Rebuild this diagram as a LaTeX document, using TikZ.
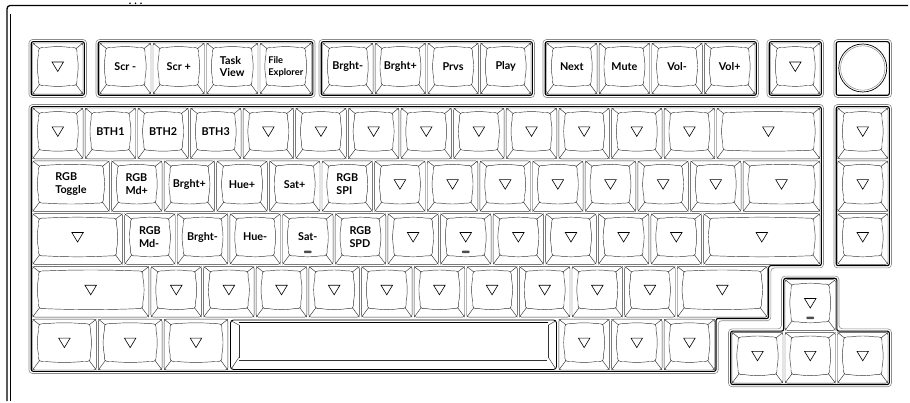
\documentclass[tikz,border=0pt]{standalone}
\usepackage{fontspec}
\newfontfamily\kf{Lato}
\usetikzlibrary{calc}
\tikzset{
  kout/.style={draw=black!80, line width=0.45pt, rounded corners=2.5pt},
  kin/.style={draw=black!80, line width=0.45pt},
  kdiag/.style={draw=black!80, line width=0.45pt},
  frg/.style={draw=black!45, line width=0.6pt, rounded corners=3.5pt},
  frb/.style={draw=black, line width=1.1pt, rounded corners=2pt},
  tri/.style={draw=black, line width=0.6pt, line join=miter},
  lbl/.style={font=\kf\bfseries\fontsize{10.8}{12.8}\selectfont, align=left, inner sep=0pt},
  lbls/.style={font=\kf\bfseries\fontsize{9.3}{12.3}\selectfont, align=left, inner sep=0pt},
  hbar/.style={fill=black!70, rounded corners=0.8pt},
}
\def\X{31.5}\def\U{52.633}
\def\Ra{107}\def\Rb{159.8}\def\Rc{212.6}\def\Rd{265.4}\def\Re{318.2}\def\Rf{371}
\def\Fa{42}\def\Fb{95}
\newcommand{\kbase}[4]{%
  \pgfmathsetmacro{\oxa}{#1+1}\pgfmathsetmacro{\oya}{#2+1}%
  \pgfmathsetmacro{\oxb}{#3-1}\pgfmathsetmacro{\oyb}{#4-1}%
  \pgfmathsetmacro{\ixa}{#1+7}\pgfmathsetmacro{\iya}{#2+5.5}%
  \pgfmathsetmacro{\ixb}{#3-7}\pgfmathsetmacro{\iyb}{#4-9.5}%
  \pgfmathsetmacro{\kcx}{(#1+#3)/2}\pgfmathsetmacro{\kcy}{(\iya+\iyb)/2}%
  \pgfmathsetmacro{\kw}{(\ixb-\ixa-14)/3}\pgfmathsetmacro{\kh}{(\iyb-\iya-14)/3}%
  \draw[kout] (\oxa,\oya) rectangle (\oxb,\oyb);
  \draw[kdiag] (\oxa,\oya) -- ({\ixa+1.3},{\iya+1.3});
  \draw[kdiag] (\oxb,\oya) -- ({\ixb-1.3},{\iya+1.3});
  \draw[kdiag] (\oxb,\oyb) -- ({\ixb-1.3},{\iyb-1.3});
  \draw[kdiag] (\oxa,\oyb) -- ({\ixa+1.3},{\iyb-1.3});
  \draw[kin] (\ixa,{\iya+7}) .. controls (\ixa,\iya) .. ({\ixa+7},\iya)
    .. controls ({\ixa+7+\kw},{\iya-1.2}) and ({\ixb-7-\kw},{\iya-1.2}) .. ({\ixb-7},\iya)
    .. controls (\ixb,\iya) .. (\ixb,{\iya+7})
    .. controls ({\ixb+1.5},{\iya+7+\kh}) and ({\ixb+1.5},{\iyb-7-\kh}) .. (\ixb,{\iyb-7})
    .. controls (\ixb,\iyb) .. ({\ixb-7},\iyb)
    .. controls ({\ixb-7-\kw},{\iyb+1.2}) and ({\ixa+7+\kw},{\iyb+1.2}) .. ({\ixa+7},\iyb)
    .. controls (\ixa,\iyb) .. (\ixa,{\iyb-7})
    .. controls ({\ixa-1.5},{\iyb-7-\kh}) and ({\ixa-1.5},{\iya+7+\kh}) .. cycle;
}
\newcommand{\kt}[5]{\kbase{#2}{#3}{#4}{#5}%
  \coordinate (#1) at (\kcx,\kcy);
  \draw[tri] ({\kcx-5.75},{\kcy-4.5}) -- ({\kcx+5.75},{\kcy-4.5}) -- (\kcx,{\kcy+5}) -- cycle;}
\newcommand{\kl}[6]{\kbase{#2}{#3}{#4}{#5}%
  \node[lbl] (#1) at (\kcx,\kcy) {#6};}
\newcommand{\kls}[6]{\kbase{#2}{#3}{#4}{#5}%
  \node[lbls] (#1) at (\kcx,\kcy) {#6};}
\newcommand{\kbar}{\fill[hbar] ({\kcx-3.8},{\iyb-5.3}) rectangle ({\kcx+3.8},{\iyb-2.8});}
\newcommand{\frm}[4]{%
  \draw[frg] ({#1-2.5},{#2-2.5}) rectangle ({#3+2.5},{#4+2.5});
  \draw[frb] ({#1-0.3},{#2-0.3}) rectangle ({#3+0.3},{#4+0.3});}
\begin{document}
\begin{tikzpicture}[x=1pt,y=-1pt]
\useasboundingbox (0,0) rectangle (910,403);
% outer case
\draw[line width=1.3pt] (7,401) -- (7,13) .. controls (7,5.5) .. (14,5.5) -- (908,5.5);
\draw[line width=0.6pt] (9.8,14) -- (9.8,401);
\foreach \d in {130,135.5,141} \fill (\d,3.3) circle (0.9);
% frames
\frm{31.5}{\Fa}{84}{\Fb}
\frm{98.5}{\Fa}{312.5}{\Fb}
\frm{321.5}{\Fa}{532}{\Fb}
\frm{545.5}{\Fa}{756}{\Fb}
\frm{769.5}{\Fa}{821}{\Fb}
\frm{836.5}{\Fa}{889}{\Fb}
\frm{836.5}{\Ra}{889}{\Rd}
\draw[frg] ({\X-2.5},{\Ra-2.5}) -- ({\X+15*\U+2.5},{\Ra-2.5}) -- ({\X+15*\U+2.5},{\Rd+2.5}) -- ({\X+14*\U+2.5},{\Rd+2.5}) -- ({\X+14*\U+2.5},{\Re+2.5}) -- ({\X+13*\U+2.5},{\Re+2.5}) -- ({\X+13*\U+2.5},{\Rf+2.5}) -- ({\X-2.5},{\Rf+2.5}) -- cycle;
\draw[frb] ({\X-0.3},{\Ra-0.3}) -- ({\X+15*\U+0.3},{\Ra-0.3}) -- ({\X+15*\U+0.3},{\Rd+0.3}) -- ({\X+14*\U+0.3},{\Rd+0.3}) -- ({\X+14*\U+0.3},{\Re+0.3}) -- ({\X+13*\U+0.3},{\Re+0.3}) -- ({\X+13*\U+0.3},{\Rf+0.3}) -- ({\X-0.3},{\Rf+0.3}) -- cycle;
\draw[frg] (781.5,276.1) -- (839,276.1) -- (839,328.9) -- (891.5,328.9) -- (891.5,386.7) -- (728.5,386.7) -- (728.5,328.9) -- (781.5,328.9) -- cycle;
\draw[frb] (783.7,278.3) -- (836.8,278.3) -- (836.8,331.1) -- (889.3,331.1) -- (889.3,384.5) -- (730.7,384.5) -- (730.7,331.1) -- (783.7,331.1) -- cycle;
% F row
\kt{esc}{31.5}{\Fa}{84}{\Fb}
\kl{f1}{98.5}{\Fa}{152}{\Fb}{Scr -}
\kl{f2}{152}{\Fa}{205.5}{\Fb}{Scr +}
\kl{f3}{205.5}{\Fa}{259}{\Fb}{Task\\View}
\kls{f4}{259}{\Fa}{312.5}{\Fb}{File\\Explorer}
\kl{f5}{321.5}{\Fa}{374.1}{\Fb}{Brght-}
\kl{f6}{374.1}{\Fa}{426.75}{\Fb}{Brght+}
\kl{f7}{426.75}{\Fa}{479.4}{\Fb}{Prvs}
\kl{f8}{479.4}{\Fa}{532}{\Fb}{Play}
\kl{f9}{545.5}{\Fa}{598.1}{\Fb}{Next}
\kl{f10}{598.1}{\Fa}{650.75}{\Fb}{Mute}
\kl{f11}{650.75}{\Fa}{703.4}{\Fb}{Vol-}
\kl{f12}{703.4}{\Fa}{756}{\Fb}{Vol+}
\kt{del}{769.5}{\Fa}{821}{\Fb}
\draw[black, line width=0.7pt] (862.75,68) circle (24);
\draw[black!45, line width=0.5pt] (862.75,68) circle (22.2);
\coordinate (knob) at (862.75,68);
% row 1
\kt{r1k0}{\X}{\Ra}{\X+\U}{\Rb}
\kl{r1k1}{\X+\U}{\Ra}{\X+2*\U}{\Rb}{BTH1}
\kl{r1k2}{\X+2*\U}{\Ra}{\X+3*\U}{\Rb}{BTH2}
\kl{r1k3}{\X+3*\U}{\Ra}{\X+4*\U}{\Rb}{BTH3}
\foreach \i in {4,...,12}{\kt{r1k\i}{\X+\i*\U}{\Ra}{\X+\i*\U+\U}{\Rb}}
\kt{r1k13}{\X+13*\U}{\Ra}{\X+15*\U}{\Rb}
% row 2
\kl{r2k0}{\X}{\Rb}{\X+1.5*\U}{\Rc}{RGB\\Toggle}
\kl{r2k1}{\X+1.5*\U}{\Rb}{\X+2.5*\U}{\Rc}{RGB\\Md+}
\kl{r2k2}{\X+2.5*\U}{\Rb}{\X+3.5*\U}{\Rc}{Brght+}
\kl{r2k3}{\X+3.5*\U}{\Rb}{\X+4.5*\U}{\Rc}{Hue+}
\kl{r2k4}{\X+4.5*\U}{\Rb}{\X+5.5*\U}{\Rc}{Sat+}
\kl{r2k5}{\X+5.5*\U}{\Rb}{\X+6.5*\U}{\Rc}{RGB\\SPI}
\foreach \i in {6,...,12}{\kt{r2k\i}{\X+\i*\U+0.5*\U}{\Rb}{\X+\i*\U+1.5*\U}{\Rc}}
\kt{r2k13}{\X+13.5*\U}{\Rb}{\X+15*\U}{\Rc}
% row 3
\kt{r3k0}{\X}{\Rc}{\X+1.75*\U}{\Rd}
\kl{r3k1}{\X+1.75*\U}{\Rc}{\X+2.75*\U}{\Rd}{RGB\\Md-}
\kl{r3k2}{\X+2.75*\U}{\Rc}{\X+3.75*\U}{\Rd}{Brght-}
\kl{r3k3}{\X+3.75*\U}{\Rc}{\X+4.75*\U}{\Rd}{Hue-}
\kl{r3k4}{\X+4.75*\U}{\Rc}{\X+5.75*\U}{\Rd}{Sat-}\kbar
\kl{r3k5}{\X+5.75*\U}{\Rc}{\X+6.75*\U}{\Rd}{RGB\\SPD}
\kt{r3k6}{\X+6.75*\U}{\Rc}{\X+7.75*\U}{\Rd}
\kt{r3k7}{\X+7.75*\U}{\Rc}{\X+8.75*\U}{\Rd}\kbar
\foreach \i in {8,...,11}{\kt{r3k\i}{\X+\i*\U+0.75*\U}{\Rc}{\X+\i*\U+1.75*\U}{\Rd}}
\kt{r3k12}{\X+12.75*\U}{\Rc}{\X+15*\U}{\Rd}
% row 4
\kt{r4k0}{\X}{\Rd}{\X+2.25*\U}{\Re}
\foreach \i in {0,...,9}{\kt{r4k\i x}{\X+\i*\U+2.25*\U}{\Rd}{\X+\i*\U+3.25*\U}{\Re}}
\kt{r4k11}{\X+12.25*\U}{\Rd}{\X+14*\U}{\Re}
% row 5
\kt{r5k0}{\X}{\Re}{\X+1.25*\U}{\Rf}
\kt{r5k1}{\X+1.25*\U}{\Re}{\X+2.5*\U}{\Rf}
\kt{r5k2}{\X+2.5*\U}{\Re}{\X+3.75*\U}{\Rf}
\kt{r5k4}{\X+10*\U}{\Re}{\X+11*\U}{\Rf}
\kt{r5k5}{\X+11*\U}{\Re}{\X+12*\U}{\Rf}
\kt{r5k6}{\X+12*\U}{\Re}{\X+13*\U}{\Rf}
% spacebar
\coordinate (space) at (393.3,344.6);
\draw[black, line width=0.9pt, rounded corners=3pt] (230.5,320) rectangle (556.5,369.5);
\draw[black, line width=0.7pt] (239,322.6) -- (548,322.6);
\draw[black!80, line width=0.5pt] (239,360) -- (547,360);
\draw[black!80, line width=0.5pt] (238.8,325) -- (238.8,357.5);
\draw[black!80, line width=0.5pt] (548.5,325) -- (548.5,357.5);
\draw[black!80, line width=0.45pt] (231.5,321) -- (238.8,325) (231.5,368.5) -- (238.8,357.5)
  (555.5,321) -- (548.5,325) (555.5,368.5) -- (548.5,357.5);
% right column
\kt{rc1}{836.5}{\Ra}{889}{\Rb}
\kt{rc2}{836.5}{\Rb}{889}{\Rc}
\kt{rc3}{836.5}{\Rc}{889}{\Rd}
% arrows
\kt{up}{784}{278.6}{836.5}{331.4}\kbar
\kt{left}{731}{331.4}{784}{384.2}
\kt{down}{784}{331.4}{836.5}{384.2}
\kt{right}{836.5}{331.4}{889}{384.2}
\end{tikzpicture}
\end{document}
